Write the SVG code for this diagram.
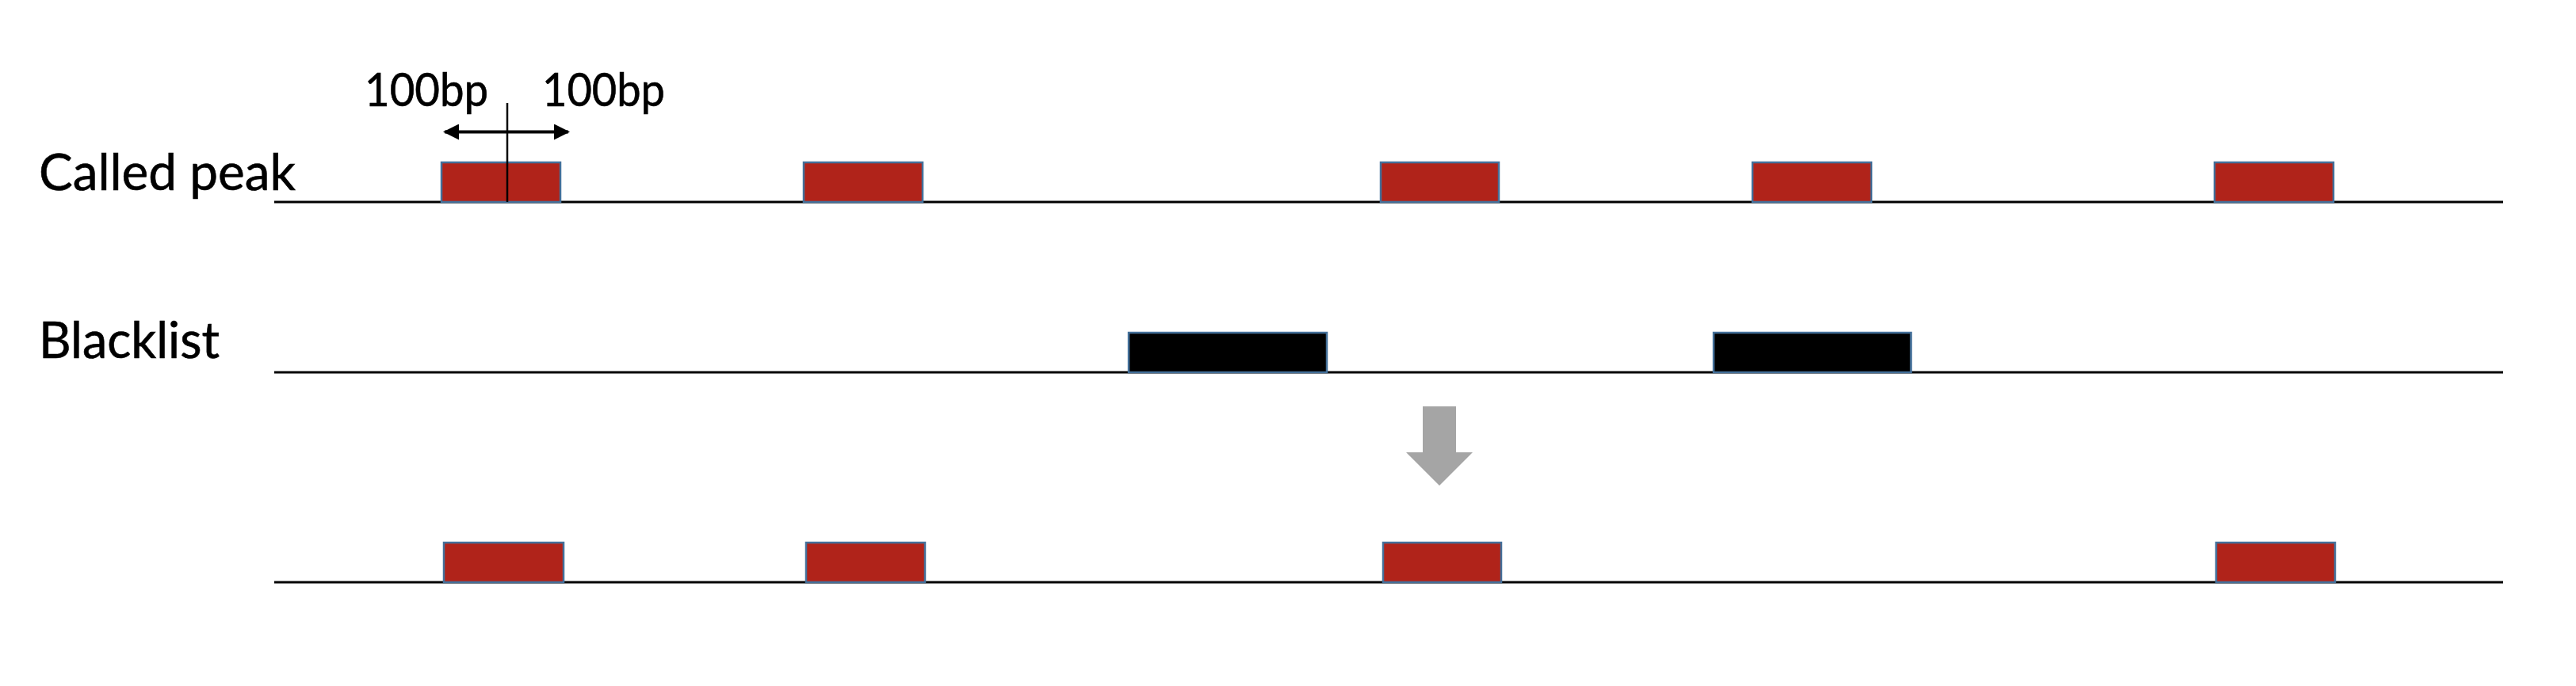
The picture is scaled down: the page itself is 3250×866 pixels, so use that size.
<svg xmlns="http://www.w3.org/2000/svg" width="3250" height="866" viewBox="0 0 3250 866">
<style>
.bg{fill:#ffffff}
.track{stroke:#000000;stroke-width:3;fill:none}
.peak{fill:#B0231A;stroke:#44709A;stroke-width:2.5}
.black{fill:#000000;stroke:#44709A;stroke-width:2.5}
.lbl{font-family:Lato,"Liberation Sans",sans-serif;fill:#000000;stroke:#000000;stroke-width:0.6}
.big{font-size:64px}
.small{font-size:58px}
.guide{stroke:#000000;stroke-width:2.5;fill:none}
.dim{stroke:#000000;stroke-width:4;fill:none}
.gray{fill:#A5A5A5}
</style>
<defs>
<marker id="ah" viewBox="0 0 10 10" refX="9" refY="5" markerWidth="5.5" markerHeight="5" markerUnits="strokeWidth" orient="auto-start-reverse">
<path d="M0,0 L10,5 L0,10 z" fill="#000000"/>
</marker>
</defs>
<rect class="bg" x="0" y="0" width="3250" height="866"/>

<g id="labels">
<text id="label-called" class="lbl big" x="49" y="240" textLength="324" lengthAdjust="spacingAndGlyphs">Called peak</text>
<text id="label-blacklist" class="lbl big" x="49" y="452" textLength="228" lengthAdjust="spacingAndGlyphs">Blacklist</text>
<text id="label-100bp-left" class="lbl small" x="460" y="134" textLength="156" lengthAdjust="spacingAndGlyphs">100bp</text>
<text id="label-100bp-right" class="lbl small" x="684" y="134" textLength="155" lengthAdjust="spacingAndGlyphs">100bp</text>
</g>

<g id="connectors">
<line class="track" x1="346" y1="255" x2="3158" y2="255"/>
<line class="track" x1="346" y1="470" x2="3158" y2="470"/>
<line class="track" x1="346" y1="735" x2="3158" y2="735"/>
</g>

<g id="called-peaks">
<rect id="peak1" class="peak" x="557" y="205" width="150" height="50"/>
<rect id="peak2" class="peak" x="1014" y="205" width="150" height="50"/>
<rect id="peak3" class="peak" x="1742" y="205" width="149" height="50"/>
<rect id="peak4" class="peak" x="2211" y="205" width="150" height="50"/>
<rect id="peak5" class="peak" x="2794" y="205" width="150" height="50"/>
</g>

<g id="blacklist">
<rect id="bl1" class="black" x="1424" y="420" width="250" height="50"/>
<rect id="bl2" class="black" x="2162" y="420" width="249" height="50"/>
</g>

<g id="filtered-peaks">
<rect id="fpeak1" class="peak" x="560" y="685" width="151" height="50"/>
<rect id="fpeak2" class="peak" x="1017" y="685" width="150" height="50"/>
<rect id="fpeak3" class="peak" x="1745" y="685" width="149" height="50"/>
<rect id="fpeak4" class="peak" x="2796" y="685" width="150" height="50"/>
</g>

<g id="annotation">
<line class="guide" x1="640" y1="130" x2="640" y2="255"/>
<line class="dim" x1="561" y1="166.5" x2="717" y2="166.5" marker-start="url(#ah)" marker-end="url(#ah)"/>
</g>

<g id="down-arrow">
<path class="gray" d="M1795,513 L1837,513 L1837,571 L1858,571 L1816,613 L1774,571 L1795,571 z"/>
</g>
</svg>
